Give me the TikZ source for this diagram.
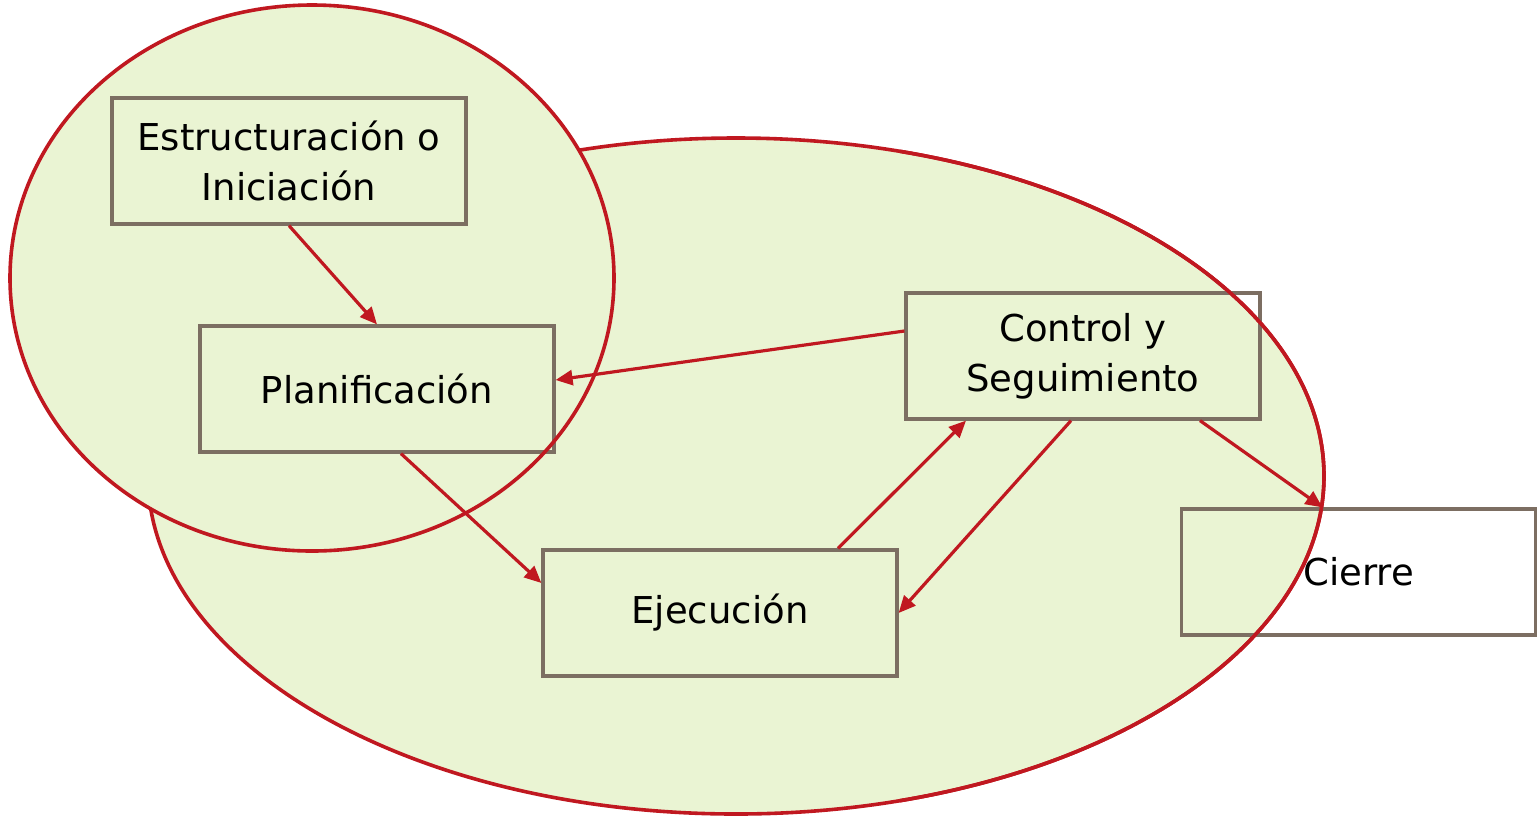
\documentclass[tikz,border=0pt]{standalone}
\usepackage{fontspec}
\setmainfont{DejaVu Sans}
\usetikzlibrary{arrows.meta}
\definecolor{phasefill}{HTML}{EAF4D3}
\definecolor{phasered}{HTML}{C01820}
\definecolor{boxline}{HTML}{7C6E62}
\tikzset{
  stage/.style={draw=boxline, line width=1.6pt, minimum width=177pt, minimum height=63pt,
    align=center, inner sep=0pt, font=\fontsize{18.5}{25}\selectfont},
  flow/.style={draw=phasered, line width=1.6pt, -{Triangle[length=8.5pt,width=7.5pt]}},
  rim/.style={draw=phasered, line width=1.8pt}
}
\begin{document}
\begin{tikzpicture}[x=0.5pt, y=-0.5pt]
\useasboundingbox (0,0) rectangle (1537,816);
% large group, its outline later covered by the small group
\fill[phasefill] (736,476) ellipse (294pt and 169pt);
\draw[rim] (736,476) ellipse (294pt and 169pt);
\fill[phasefill] (312,278) ellipse (151pt and 136.5pt);
% process stages
\node[stage] (e) at (289,161) {Estructuración o\\Iniciación};
\node[stage] (p) at (377,389) {Planificación};
\node[stage] (j) at (720,613) {Ejecución};
\node[stage] (c) at (1083,356) {Control y\\Seguimiento};
\node[stage] (k) at (1358.5,572) {Cierre};
% outlines drawn over the stages
\begin{scope}
  \clip (900,0) rectangle (1537,816);
  \draw[rim] (736,476) ellipse (294pt and 169pt);
\end{scope}
\draw[rim] (312,278) ellipse (151pt and 136.5pt);
% transitions between stages
\draw[flow] (e.south) -- (p.north);
\draw[flow] ([yshift=12.5pt]c.west) -- ([yshift=4.5pt]p.east);
\draw[flow] ([xshift=12pt]p.south) -- ([yshift=15pt]j.west);
\draw[flow] ([xshift=59pt]j.north) -- ([xshift=-58.5pt]c.south);
\draw[flow] ([xshift=-6pt]c.south) -- (j.east);
\draw[flow] ([xshift=58.5pt]c.south) -- ([xshift=-18pt]k.north);
\end{tikzpicture}
\end{document}
